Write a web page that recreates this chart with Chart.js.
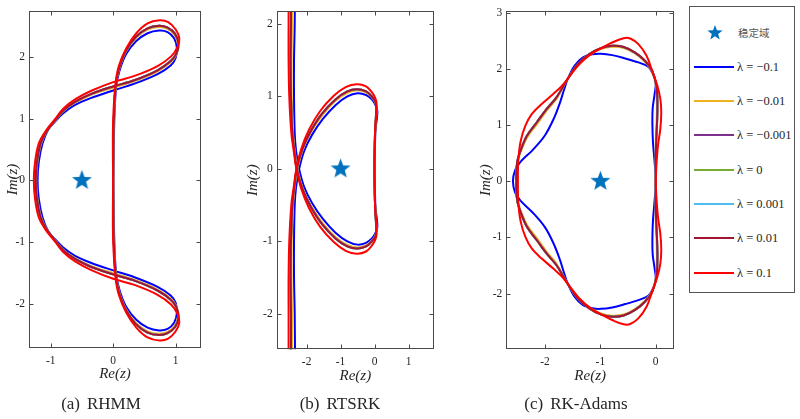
<!DOCTYPE html>
<html>
<head>
<meta charset="utf-8">
<script src="https://cdn.jsdelivr.net/npm/chart.js@4.4.1/dist/chart.umd.min.js"></script>
<style>
html,body{margin:0;padding:0;background:#fff;width:800px;height:419px;overflow:hidden;}
.wrap{position:absolute;top:0;height:419px;}
.cap{position:absolute;top:394px;line-height:19px;font-family:"Liberation Serif","DejaVu Serif",serif;font-size:17px;color:#262626;white-space:nowrap;transform:translateX(-50%);}
.cap span.g{display:inline-block;width:7px;}
#legend{position:absolute;left:689px;top:6px;width:106px;height:287px;border:1px solid #555;box-sizing:border-box;background:#fff;}
.li{position:absolute;left:0;height:20px;}
.li .sw{position:absolute;left:4px;top:9px;width:40px;height:2px;}
.li .tx{position:absolute;left:47px;top:2px;line-height:16px;font-family:"Liberation Serif","DejaVu Serif",serif;font-size:12.5px;color:#262626;white-space:nowrap;}
#lgstar{position:absolute;left:15px;top:16px;}
#lgstartx{position:absolute;left:48px;top:18px;line-height:16px;font-family:"Noto Sans CJK SC",sans-serif;font-size:10.5px;color:#555;}
</style>
</head>
<body>
<div class="wrap" style="left:0;width:215px"><canvas id="ca" width="215" height="419"></canvas></div>
<div class="wrap" style="left:230px;width:215px"><canvas id="cb" width="215" height="419"></canvas></div>
<div class="wrap" style="left:460px;width:225px"><canvas id="cc" width="225" height="419"></canvas></div>
<div class="cap" style="left:101px">(a)<span class="g"></span>RHMM</div>
<div class="cap" style="left:340px">(b)<span class="g"></span>RTSRK</div>
<div class="cap" style="left:576px">(c)<span class="g"></span>RK-Adams</div>
<div id="legend">
  <canvas id="lgstar" width="20" height="20"></canvas>
  <div id="lgstartx">稳定域</div>
</div>
<script>
// ---------------- data ----------------
const LAMBDA_LABELS = ['λ = −0.1','λ = −0.01','λ = −0.001','λ = 0','λ = 0.001','λ = 0.01','λ = 0.1'];
const STAR_LABEL = '稳定域';

// (a) RHMM
const A_XTICKS = [-1, 0, 1];
const A_YTICKS = [-2, -1, 0, 1, 2];
const A_STAR = [[-0.5, 0]];
const A_BLUE = [[0,0],[0.01,0.6],[0.022,1.09],[0.048,1.51],[0.10,1.77],[0.205,2.04],[0.365,2.25],[0.55,2.38],[0.735,2.425],[0.87,2.40],[0.975,2.30],[1.02,2.14],[1.0,1.98],[0.92,1.86],[0.71,1.72],[0.34,1.565],[0,1.455],[-0.35,1.335],[-0.61,1.22],[-0.80,1.085],[-0.93,0.95],[-1.04,0.82],[-1.13,0.6],[-1.19,0.3],[-1.21,0],[-1.19,-0.3],[-1.13,-0.6],[-1.04,-0.82],[-0.93,-0.95],[-0.80,-1.085],[-0.61,-1.22],[-0.35,-1.335],[0,-1.455],[0.34,-1.565],[0.71,-1.72],[0.92,-1.86],[1.0,-1.98],[1.02,-2.14],[0.975,-2.30],[0.87,-2.40],[0.735,-2.425],[0.55,-2.38],[0.365,-2.25],[0.205,-2.04],[0.10,-1.77],[0.048,-1.51],[0.022,-1.09],[0.01,-0.6],[0,0]];
const A_ORANGE = [[0,0],[0.006,0.6],[0.015,1.08],[0.042,1.525],[0.092,1.79],[0.20,2.075],[0.36,2.30],[0.55,2.44],[0.735,2.48],[0.87,2.45],[0.985,2.35],[1.04,2.19],[1.008,2.03],[0.92,1.91],[0.71,1.765],[0.34,1.605],[0,1.50],[-0.35,1.385],[-0.61,1.257],[-0.80,1.12],[-0.93,0.965],[-1.055,0.805],[-1.152,0.6],[-1.212,0.3],[-1.232,0],[-1.212,-0.3],[-1.152,-0.6],[-1.055,-0.805],[-0.93,-0.965],[-0.80,-1.12],[-0.61,-1.257],[-0.35,-1.385],[0,-1.50],[0.34,-1.605],[0.71,-1.765],[0.92,-1.91],[1.008,-2.03],[1.04,-2.19],[0.985,-2.35],[0.87,-2.45],[0.735,-2.48],[0.55,-2.44],[0.36,-2.30],[0.20,-2.075],[0.092,-1.79],[0.042,-1.525],[0.015,-1.08],[0.006,-0.6],[0,0]];
const A_MID = [[0,0],[0.005,0.6],[0.013,1.08],[0.04,1.53],[0.09,1.80],[0.20,2.09],[0.36,2.32],[0.55,2.46],[0.735,2.50],[0.87,2.47],[0.99,2.37],[1.045,2.21],[1.01,2.05],[0.92,1.93],[0.71,1.78],[0.34,1.62],[0,1.52],[-0.35,1.40],[-0.61,1.27],[-0.80,1.13],[-0.93,0.97],[-1.06,0.80],[-1.16,0.6],[-1.22,0.3],[-1.24,0],[-1.22,-0.3],[-1.16,-0.6],[-1.06,-0.80],[-0.93,-0.97],[-0.80,-1.13],[-0.61,-1.27],[-0.35,-1.40],[0,-1.52],[0.34,-1.62],[0.71,-1.78],[0.92,-1.93],[1.01,-2.05],[1.045,-2.21],[0.99,-2.37],[0.87,-2.47],[0.735,-2.50],[0.55,-2.46],[0.36,-2.32],[0.20,-2.09],[0.09,-1.80],[0.04,-1.53],[0.013,-1.08],[0.005,-0.6],[0,0]];
const A_RED = [[0,0],[-0.005,0.5],[0,1.0],[0.035,1.55],[0.09,1.85],[0.21,2.14],[0.37,2.38],[0.55,2.54],[0.74,2.59],[0.88,2.56],[1.0,2.44],[1.058,2.30],[1.03,2.16],[0.93,2.01],[0.71,1.85],[0.34,1.69],[0,1.59],[-0.35,1.45],[-0.61,1.31],[-0.80,1.16],[-0.93,0.99],[-1.08,0.80],[-1.19,0.6],[-1.25,0.3],[-1.27,0],[-1.25,-0.3],[-1.19,-0.6],[-1.08,-0.80],[-0.93,-0.99],[-0.80,-1.16],[-0.61,-1.31],[-0.35,-1.45],[0,-1.59],[0.34,-1.69],[0.71,-1.85],[0.93,-2.01],[1.03,-2.16],[1.058,-2.30],[1.0,-2.44],[0.88,-2.56],[0.74,-2.59],[0.55,-2.54],[0.37,-2.38],[0.21,-2.14],[0.09,-1.85],[0.035,-1.55],[0,-1.0],[-0.005,-0.5],[0,0]];

// (b) RTSRK
const B_XTICKS = [-2, -1, 0, 1];
const B_YTICKS = [-2, -1, 0, 1, 2];
const B_STAR = [[-1, 0]];
const B_BLUE = [[-2.34,2.6],[-2.35,2.0],[-2.37,1.5],[-2.37,1.0],[-2.35,0.5],[-2.31,0.25],[-2.22,0],[-2.07,-0.25],[-1.84,-0.47],[-1.52,-0.69],[-1.15,-0.88],[-0.80,-1.0],[-0.50,-1.045],[-0.25,-1.02],[-0.08,-0.96],[0.02,-0.89],[0.08,-0.81],[0.07,-0.70],[0.03,-0.55],[0.01,-0.25],[0.005,0],[0.01,0.25],[0.03,0.55],[0.07,0.70],[0.08,0.81],[0.02,0.89],[-0.08,0.96],[-0.25,1.02],[-0.50,1.045],[-0.80,1.0],[-1.15,0.88],[-1.52,0.69],[-1.84,0.47],[-2.07,0.25],[-2.22,0],[-2.31,-0.25],[-2.35,-0.5],[-2.37,-1.0],[-2.37,-1.5],[-2.35,-2.0],[-2.34,-2.6]];
const B_ORANGE = [[-2.43,2.6],[-2.43,2.0],[-2.445,1.5],[-2.44,1.0],[-2.40,0.5],[-2.35,0.25],[-2.27,0],[-2.11,-0.27],[-1.87,-0.51],[-1.54,-0.74],[-1.15,-0.94],[-0.80,-1.05],[-0.515,-1.086],[-0.25,-1.057],[-0.08,-0.99],[0.02,-0.92],[0.058,-0.84],[0.048,-0.715],[0.019,-0.51],[0.006,-0.25],[0.001,0],[0.006,0.25],[0.019,0.51],[0.048,0.715],[0.058,0.84],[0.02,0.92],[-0.08,0.99],[-0.25,1.057],[-0.515,1.086],[-0.80,1.05],[-1.15,0.94],[-1.54,0.74],[-1.87,0.51],[-2.11,0.27],[-2.27,0],[-2.35,-0.25],[-2.40,-0.5],[-2.44,-1.0],[-2.445,-1.5],[-2.43,-2.0],[-2.43,-2.6]];
const B_MID = [[-2.46,2.6],[-2.46,2.0],[-2.47,1.5],[-2.46,1.0],[-2.42,0.5],[-2.36,0.25],[-2.29,0],[-2.12,-0.28],[-1.88,-0.52],[-1.55,-0.76],[-1.15,-0.96],[-0.80,-1.07],[-0.52,-1.10],[-0.25,-1.07],[-0.08,-1.0],[0.02,-0.93],[0.05,-0.85],[0.04,-0.72],[0.015,-0.5],[0.005,-0.25],[0,0],[0.005,0.25],[0.015,0.5],[0.04,0.72],[0.05,0.85],[0.02,0.93],[-0.08,1.0],[-0.25,1.07],[-0.52,1.10],[-0.80,1.07],[-1.15,0.96],[-1.55,0.76],[-1.88,0.52],[-2.12,0.28],[-2.29,0],[-2.36,-0.25],[-2.42,-0.5],[-2.46,-1.0],[-2.47,-1.5],[-2.46,-2.0],[-2.46,-2.6]];
const B_RED = [[-2.53,2.6],[-2.53,2.0],[-2.53,1.5],[-2.51,1.0],[-2.45,0.5],[-2.38,0.25],[-2.30,0],[-2.16,-0.27],[-1.93,-0.54],[-1.60,-0.80],[-1.20,-1.01],[-0.85,-1.13],[-0.52,-1.17],[-0.25,-1.14],[-0.08,-1.06],[0.02,-0.98],[0.06,-0.90],[0.05,-0.75],[0.02,-0.55],[0,-0.25],[-0.005,0],[0,0.25],[0.02,0.55],[0.05,0.75],[0.06,0.90],[0.02,0.98],[-0.08,1.06],[-0.25,1.14],[-0.52,1.17],[-0.85,1.13],[-1.20,1.01],[-1.60,0.80],[-1.93,0.54],[-2.16,0.27],[-2.30,0],[-2.38,-0.25],[-2.45,-0.5],[-2.51,-1.0],[-2.53,-1.5],[-2.53,-2.0],[-2.53,-2.6]];

// (c) RK-Adams
const C_XTICKS = [-2, -1, 0];
const C_YTICKS = [-2, -1, 0, 1, 2, 3];
const C_STAR = [[-1, 0]];
const C_BLUE = [[0,0],[-0.005,0.15],[-0.025,0.4],[-0.05,0.7],[-0.06,1.0],[-0.055,1.3],[-0.02,1.55],[0.0,1.75],[-0.065,1.94],[-0.136,2.04],[-0.314,2.115],[-0.55,2.185],[-0.787,2.245],[-0.994,2.27],[-1.142,2.26],[-1.32,2.20],[-1.467,2.055],[-1.586,1.83],[-1.66,1.62],[-1.73,1.40],[-1.84,1.12],[-2.0,0.82],[-2.22,0.56],[-2.44,0.35],[-2.54,0.2],[-2.58,0],[-2.54,-0.2],[-2.44,-0.35],[-2.22,-0.56],[-2.0,-0.82],[-1.84,-1.12],[-1.73,-1.40],[-1.66,-1.62],[-1.586,-1.83],[-1.467,-2.055],[-1.32,-2.20],[-1.142,-2.26],[-0.994,-2.27],[-0.787,-2.245],[-0.55,-2.185],[-0.314,-2.115],[-0.136,-2.04],[-0.065,-1.94],[0.0,-1.75],[-0.02,-1.55],[-0.055,-1.3],[-0.06,-1.0],[-0.05,-0.7],[-0.025,-0.4],[-0.005,-0.15],[0,0]];
const C_ORANGE = [[0,0],[0.0,0.64],[0.015,1.05],[0.02,1.40],[0.005,1.70],[-0.068,1.955],[-0.2,2.13],[-0.375,2.275],[-0.58,2.372],[-0.787,2.392],[-0.994,2.352],[-1.195,2.248],[-1.40,2.07],[-1.586,1.83],[-1.785,1.48],[-1.96,1.27],[-2.135,1.03],[-2.31,0.80],[-2.42,0.57],[-2.50,0.34],[-2.52,0],[-2.50,-0.34],[-2.42,-0.57],[-2.31,-0.80],[-2.135,-1.03],[-1.96,-1.27],[-1.785,-1.48],[-1.586,-1.83],[-1.40,-2.07],[-1.195,-2.248],[-0.994,-2.352],[-0.787,-2.392],[-0.58,-2.372],[-0.375,-2.275],[-0.2,-2.13],[-0.068,-1.955],[0.005,-1.70],[0.02,-1.40],[0.015,-1.05],[0.0,-0.64],[0,0]];
const C_MID = [[0,0],[0.006,0.64],[0.024,1.05],[0.03,1.40],[0.012,1.70],[-0.065,1.967],[-0.195,2.144],[-0.373,2.29],[-0.58,2.39],[-0.787,2.41],[-0.994,2.368],[-1.20,2.262],[-1.408,2.085],[-1.586,1.83],[-1.793,1.494],[-1.97,1.288],[-2.148,1.05],[-2.325,0.815],[-2.43,0.58],[-2.503,0.34],[-2.52,0],[-2.503,-0.34],[-2.43,-0.58],[-2.325,-0.815],[-2.148,-1.05],[-1.97,-1.288],[-1.793,-1.494],[-1.586,-1.83],[-1.408,-2.085],[-1.20,-2.262],[-0.994,-2.368],[-0.787,-2.41],[-0.58,-2.39],[-0.373,-2.29],[-0.195,-2.144],[-0.065,-1.967],[0.012,-1.70],[0.03,-1.40],[0.024,-1.05],[0.006,-0.64],[0,0]];
const C_RED = [[0,0],[0.012,0.283],[0.041,0.638],[0.083,0.933],[0.10,1.229],[0.083,1.465],[0.03,1.70],[-0.065,1.967],[-0.166,2.233],[-0.314,2.44],[-0.462,2.54],[-0.58,2.546],[-0.787,2.469],[-0.964,2.38],[-1.172,2.262],[-1.379,2.085],[-1.586,1.83],[-1.70,1.69],[-1.852,1.553],[-2.06,1.376],[-2.237,1.20],[-2.355,0.99],[-2.444,0.70],[-2.485,0.34],[-2.49,0],[-2.485,-0.34],[-2.444,-0.70],[-2.355,-0.99],[-2.237,-1.20],[-2.06,-1.376],[-1.852,-1.553],[-1.70,-1.69],[-1.586,-1.83],[-1.379,-2.085],[-1.172,-2.262],[-0.964,-2.38],[-0.787,-2.469],[-0.58,-2.546],[-0.462,-2.54],[-0.314,-2.44],[-0.166,-2.233],[-0.065,-1.967],[0.03,-1.70],[0.083,-1.465],[0.10,-1.229],[0.083,-0.933],[0.041,-0.638],[0.012,-0.283],[0,0]];

// ---------------- styles ----------------
const COLORS = ['#0000FF','#EDB120','#7E2F8E','#77AC30','#4DBEEE','#A2142F','#FF0000'];
const STAR_COLOR = '#0072BD';
const TXT = '#262626';
const SERIF = "'Liberation Serif', 'DejaVu Serif', serif";

Chart.defaults.font.family = SERIF;
Chart.defaults.color = TXT;

function starCanvas(R, color, cv) {
  const c = cv || document.createElement('canvas');
  const s = Math.ceil(R * 2 + 2);
  if (!cv) { c.width = s; c.height = s; }
  const g = c.getContext('2d');
  const cx = c.width / 2, cy = c.height / 2;
  g.fillStyle = color;
  g.beginPath();
  for (let i = 0; i < 10; i++) {
    const r = (i % 2) ? R * 0.42 : R;
    const a = -Math.PI / 2 + i * Math.PI / 5;
    g.lineTo(cx + r * Math.cos(a), cy + r * Math.sin(a));
  }
  g.closePath();
  g.fill();
  return c;
}
const STAR_IMG = starCanvas(10.5, STAR_COLOR);

const frameTicks = {
  id: 'frameTicks',
  afterDraw(chart) {
    const {ctx, chartArea: a, scales: {x, y}} = chart;
    const L = 4;
    ctx.save();
    ctx.strokeStyle = '#4a4a4a';
    ctx.lineWidth = 1;
    const l = Math.round(a.left) + 0.5, r = Math.round(a.right) - 0.5;
    const t = Math.round(a.top) + 0.5, b = Math.round(a.bottom) - 0.5;
    ctx.strokeRect(l, t, r - l, b - t);
    ctx.beginPath();
    x.ticks.forEach(tk => {
      const px = Math.round(x.getPixelForValue(tk.value)) + 0.5;
      ctx.moveTo(px, b); ctx.lineTo(px, b - L);
      ctx.moveTo(px, t); ctx.lineTo(px, t + L);
    });
    y.ticks.forEach(tk => {
      const py = Math.round(y.getPixelForValue(tk.value)) + 0.5;
      ctx.moveTo(l, py); ctx.lineTo(l + L, py);
      ctx.moveTo(r, py); ctx.lineTo(r - L, py);
    });
    ctx.stroke();
    ctx.restore();
  }
};

function makePanel(id, p) {
  const series = [p.blue, p.orange, p.mid, p.mid, p.mid, p.mid, p.red];
  const datasets = series.map((d, i) => ({
    label: LAMBDA_LABELS[i],
    data: d.slice(),
    showLine: true,
    borderColor: COLORS[i],
    backgroundColor: COLORS[i],
    borderWidth: 2,
    pointRadius: 0,
    tension: 0.35,
    fill: false,
    order: 6 - i
  }));
  datasets.push({
    label: STAR_LABEL,
    data: p.star,
    showLine: false,
    pointStyle: STAR_IMG,
    pointRadius: 10,
    order: -1
  });
  const H = 419;
  new Chart(document.getElementById(id), {
    type: 'scatter',
    data: { datasets },
    options: {
      responsive: false,
      animation: false,
      events: [],
      layout: { padding: { left: 0, top: p.top, right: p.right, bottom: 0 } },
      elements: { line: { capBezierPoints: false } },
      plugins: { legend: { display: false }, tooltip: { enabled: false }, title: { display: false } },
      scales: {
        x: {
          type: 'linear', position: 'bottom', min: p.xmin, max: p.xmax,
          grid: { display: false, drawTicks: false }, border: { display: false },
          ticks: { padding: 6, font: { size: 11.5 }, color: TXT, autoSkip: false, maxRotation: 0, callback: v => String(v) },
          title: { display: true, text: 'Re(z)', color: TXT, font: { size: 15, style: 'italic' }, padding: { top: 0, bottom: p.xTitlePad } },
          afterBuildTicks: s => { s.ticks = p.xticks.map(v => ({ value: v })); },
          afterFit: s => { s.height = H - p.bottom; s.paddingLeft = 0; s.paddingRight = 0; s.paddingTop = 0; s.paddingBottom = 0; }
        },
        y: {
          type: 'linear', position: 'left', min: p.ymin, max: p.ymax,
          grid: { display: false, drawTicks: false }, border: { display: false },
          ticks: { padding: 4, font: { size: 11.5 }, color: TXT, autoSkip: false, callback: v => String(v) },
          title: { display: true, text: 'Im(z)', color: TXT, font: { size: 15, style: 'italic' }, padding: { top: p.yTitlePad, bottom: 0 } },
          afterBuildTicks: s => { s.ticks = p.yticks.map(v => ({ value: v })); },
          afterFit: s => { s.width = p.yw; s.paddingLeft = 0; s.paddingRight = 0; s.paddingTop = 0; s.paddingBottom = 0; }
        }
      }
    },
    plugins: [frameTicks]
  });
}

makePanel('ca', { blue: A_BLUE, orange: A_ORANGE, mid: A_MID, red: A_RED, star: A_STAR, xticks: A_XTICKS, yticks: A_YTICKS,
  xmin: -1.347, xmax: 1.405, ymin: -2.71, ymax: 2.74, yw: 29, top: 6, right: 14, bottom: 348, xTitlePad: 35.5, yTitlePad: 4 });
makePanel('cb', { blue: B_BLUE, orange: B_ORANGE, mid: B_MID, red: B_RED, star: B_STAR, xticks: B_XTICKS, yticks: B_YTICKS,
  xmin: -2.88, xmax: 1.75, ymin: -2.49, ymax: 2.18, yw: 46.7, top: 6, right: 6.7, bottom: 349.3, xTitlePad: 34, yTitlePad: 13.7 });
makePanel('cc', { blue: C_BLUE, orange: C_ORANGE, mid: C_MID, red: C_RED, star: C_STAR, xticks: C_XTICKS, yticks: C_YTICKS,
  xmin: -2.70, xmax: 0.33, ymin: -2.99, ymax: 3.03, yw: 46.3, top: 8.3, right: 9.3, bottom: 349.3, xTitlePad: 34, yTitlePad: 17 });

// ---------------- legend ----------------
const lg = document.getElementById('legend');
starCanvas(8, STAR_COLOR, document.getElementById('lgstar'));
LAMBDA_LABELS.forEach((lab, i) => {
  const d = document.createElement('div');
  d.className = 'li';
  d.style.top = (49.7 + i * 34.33) + 'px';
  d.style.width = '100%';
  d.innerHTML = '<div class="sw" style="background:' + COLORS[i] + '"></div><div class="tx">' + lab + '</div>';
  lg.appendChild(d);
});
</script>
</body>
</html>
